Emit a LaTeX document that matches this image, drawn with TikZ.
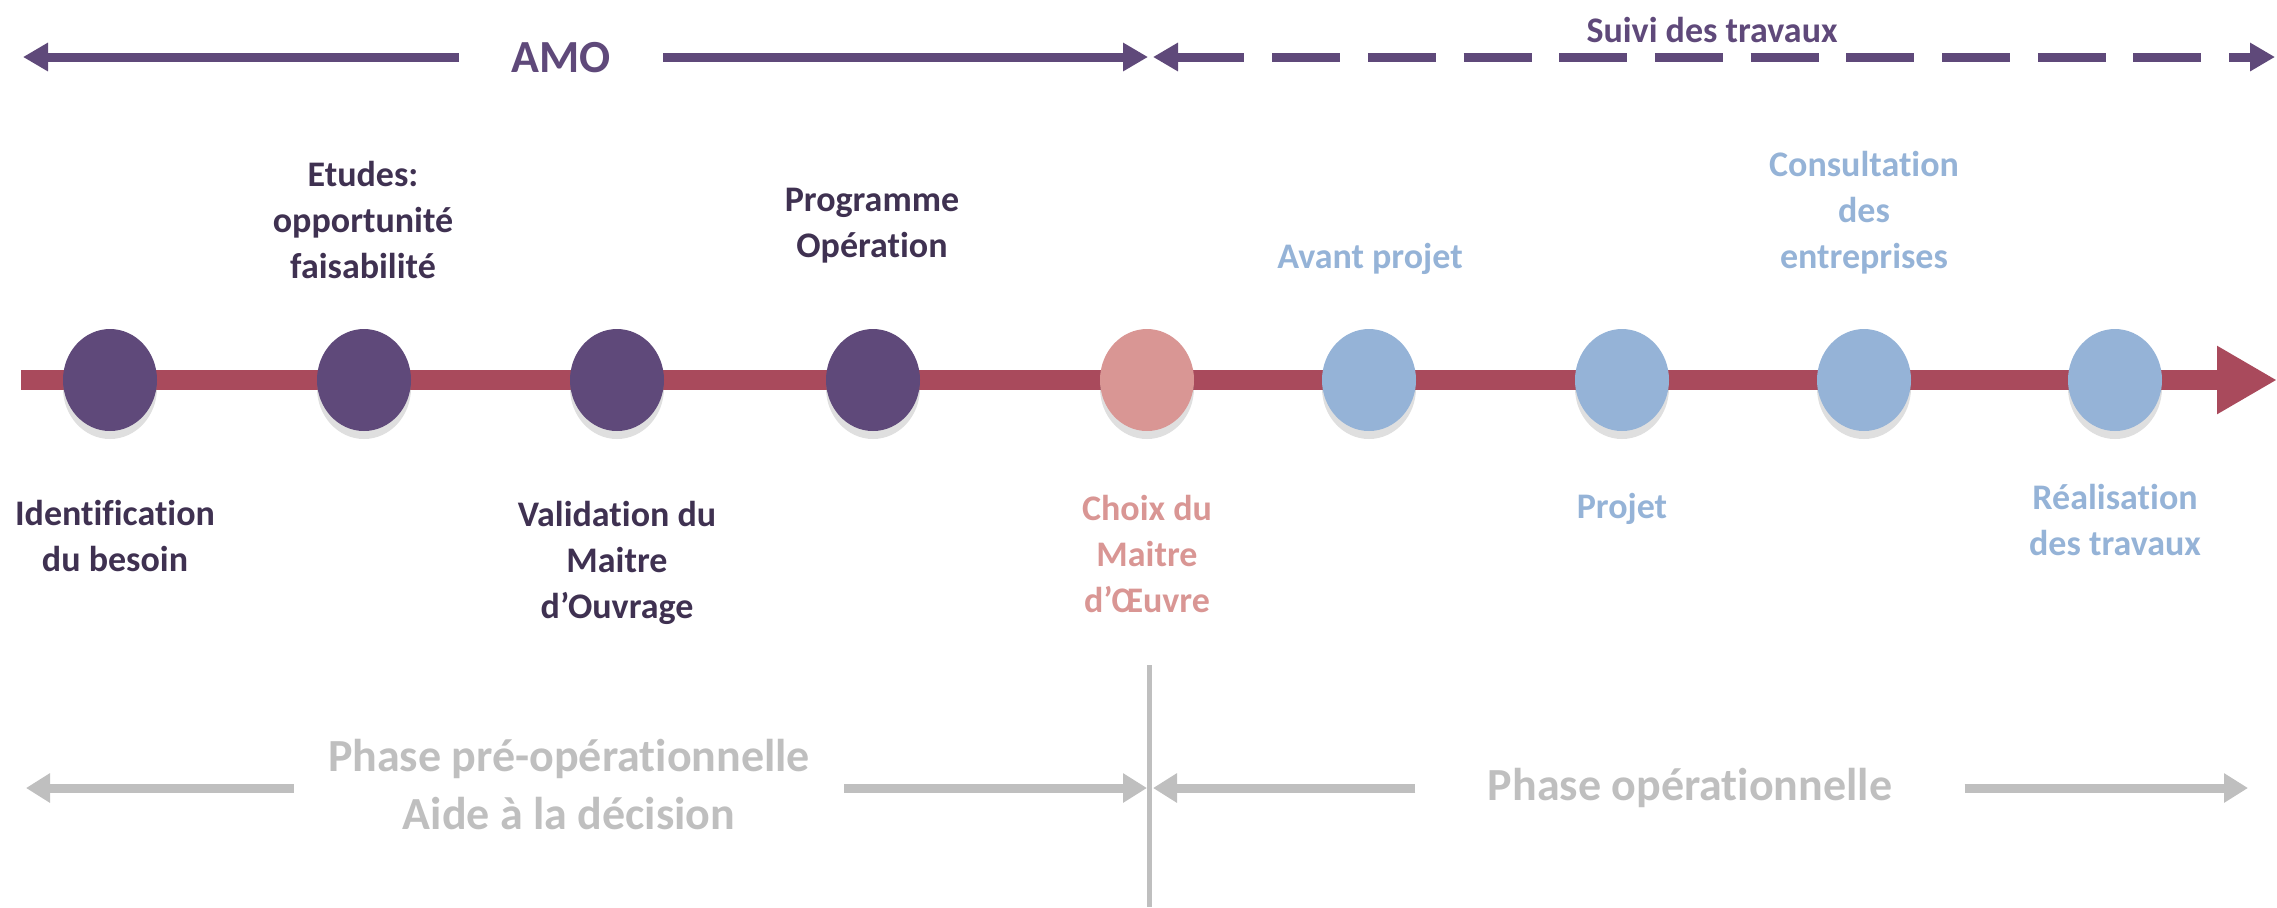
\documentclass[tikz,border=0pt]{standalone}
\usepackage{fontspec}
\setmainfont[Ligatures=NoCommon]{Carlito}
\usetikzlibrary{arrows.meta,shapes.geometric,shadows}
\definecolor{violetfonce}{HTML}{5F497A}
\definecolor{violettexte}{HTML}{3F3151}
\definecolor{rougebarre}{HTML}{A94A5C}
\definecolor{rose}{HTML}{D99694}
\definecolor{bleu}{HTML}{95B3D7}
\definecolor{grisclair}{HTML}{BFBFBF}
\tikzset{
  jalon/.style={ellipse, minimum width=47pt, minimum height=51pt, inner sep=0pt,
    drop shadow={shadow xshift=0pt, shadow yshift=-4pt, opacity=.25}},
  etiquette/.style={font=\bfseries\fontsize{18}{23}\selectfont, align=center, anchor=base, inner sep=0pt},
  phase/.style={text=grisclair, font=\bfseries\fontsize{23}{29}\selectfont, align=center, anchor=base, inner ysep=0pt},
  flechehaut/.style={draw=violetfonce, line width=4.5pt, -{Triangle[length=12.5pt,width=13.5pt]}},
  flechegris/.style={draw=grisclair, line width=4.5pt, -{Triangle[length=12pt,width=14pt]}}
}
\begin{document}
\begin{tikzpicture}[x=0.5pt,y=-0.5pt]
\useasboundingbox (0,0) rectangle (2277,907);
% axe du temps
\coordinate (debut) at (21,380);
\coordinate (fin) at (2277,380);
\draw[rougebarre, line width=10pt, -{Triangle[length=30pt,width=32pt]}] (debut) -- (fin);
\foreach \n/\x/\couleur in {1/110/violetfonce,2/364/violetfonce,3/617/violetfonce,4/873/violetfonce,5/1147/rose,6/1369/bleu,7/1622/bleu,8/1864/bleu,9/2115/bleu} % jalons
\node[jalon, fill=\couleur] (j\n) at (\x,380) {};
% etiquettes (y = ligne de base de la derniere ligne)
\foreach \x/\y/\texte in {363/278/{Etudes:\\opportunité\\faisabilité},872/257/{Programme\\Opération},115/571/{Identification\\du besoin},617/618/{Validation du\\Maitre\\d’Ouvrage}}
\node[etiquette, text=violettexte] (e\x) at (\x,\y) {\texte};
\node[etiquette, text=rose] (e1147) at (1147,612) {Choix du\\Maitre\\d’Œuvre};
\foreach \x/\y/\texte in {1370/268/{Avant projet},1864/268/{Consultation\\des\\entreprises},1622/518/{Projet},2115/555/{Réalisation\\des travaux}}
\node[etiquette, text=bleu] (e\x) at (\x,\y) {\texte};
% AMO et suivi des travaux
\node[text=violetfonce, font=\bfseries\fontsize{23}{28}\selectfont, inner xsep=26pt] (amo) at (561,58) {AMO};
\coordinate (amoG) at (23,57);
\coordinate (amoD) at (1148,57);
\draw[flechehaut] (amo.west |- amoG) -- (amoG);
\draw[flechehaut] (amo.east |- amoD) -- (amoD);
\coordinate (suiviG) at (1153,57);
\coordinate (suiviD) at (2275,57);
\draw[flechehaut, {Triangle[length=12.5pt,width=13.5pt]}-{Triangle[length=12.5pt,width=13.5pt]}, dash pattern=on 34pt off 13.85pt] (suiviG) -- (suiviD);
\node[etiquette, text=violetfonce] (suivi) at (1712,42) {Suivi des travaux};
% phases
\coordinate (seph) at (1149,665);
\coordinate (sepb) at (1149,907);
\draw[grisclair, line width=2.5pt] (seph) -- (sepb);
\node[phase, inner xsep=17pt] (pre) at (569,829) {Phase pré-opérationnelle\\Aide à la décision};
\node[phase, inner xsep=36pt] (oper) at (1690,800) {Phase opérationnelle};
\coordinate (preG) at (26,788);
\coordinate (preD) at (1147,788);
\coordinate (operG) at (1153,788);
\coordinate (operD) at (2248,788);
\draw[flechegris] (pre.west |- preG) -- (preG);
\draw[flechegris] (pre.east |- preD) -- (preD);
\draw[flechegris] (oper.west |- operG) -- (operG);
\draw[flechegris] (oper.east |- operD) -- (operD);
\end{tikzpicture}
\end{document}
